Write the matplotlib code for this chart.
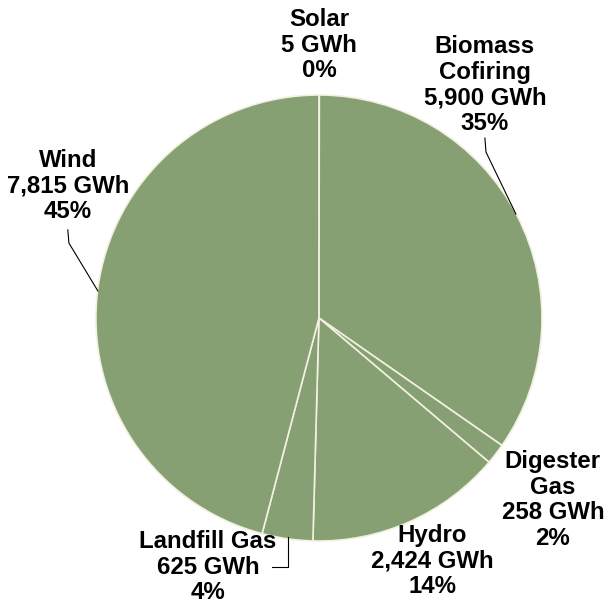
import matplotlib.pyplot as plt

# data
names = ["Solar", "Biomass\nCofiring", "Digester\nGas", "Hydro", "Landfill Gas", "Wind"]
gwh = [5, 5900, 258, 2424, 625, 7815]
pct = ["0%", "35%", "2%", "14%", "4%", "45%"]

# label centres (data units, pie radius = 1)
label_xy = [(0.0, 1.224), (0.744, 1.045), (1.049, -0.816),
            (0.507, -1.090), (-0.498, -1.117), (-1.126, 0.592)]

plt.rcParams['font.family'] = ['Liberation Sans', 'DejaVu Sans']

fig = plt.figure(figsize=(6.08, 6.05), dpi=100)
ax = fig.add_axes([0, 0, 1, 1])
ax.pie(gwh, startangle=90, counterclock=False, colors=["#86A073"] * len(gwh),
       wedgeprops=dict(edgecolor="#F2F0E0", linewidth=1.2))
ax.set_aspect('auto')
ax.set_xlim(-1.430, 1.296)
ax.set_ylim(-1.287, 1.426)
ax.axis('off')

for n, v, p, (x, y) in zip(names, gwh, pct, label_xy):
    ax.text(x, y, f"{n}\n{v:,} GWh\n{p}", ha='center', va='center',
            fontsize=17.3, fontweight='bold', linespacing=1.14)

# leader lines
ax.plot([0.744, 0.749, 0.883], [0.807, 0.744, 0.466], color='black', lw=0.8)
ax.plot([-1.126, -1.121, -0.991], [0.395, 0.336, 0.121], color='black', lw=0.8)
ax.plot([-0.139, -0.139, -0.211], [-0.982, -1.117, -1.117], color='black', lw=0.8)

fig.savefig("out.png", dpi=100)
